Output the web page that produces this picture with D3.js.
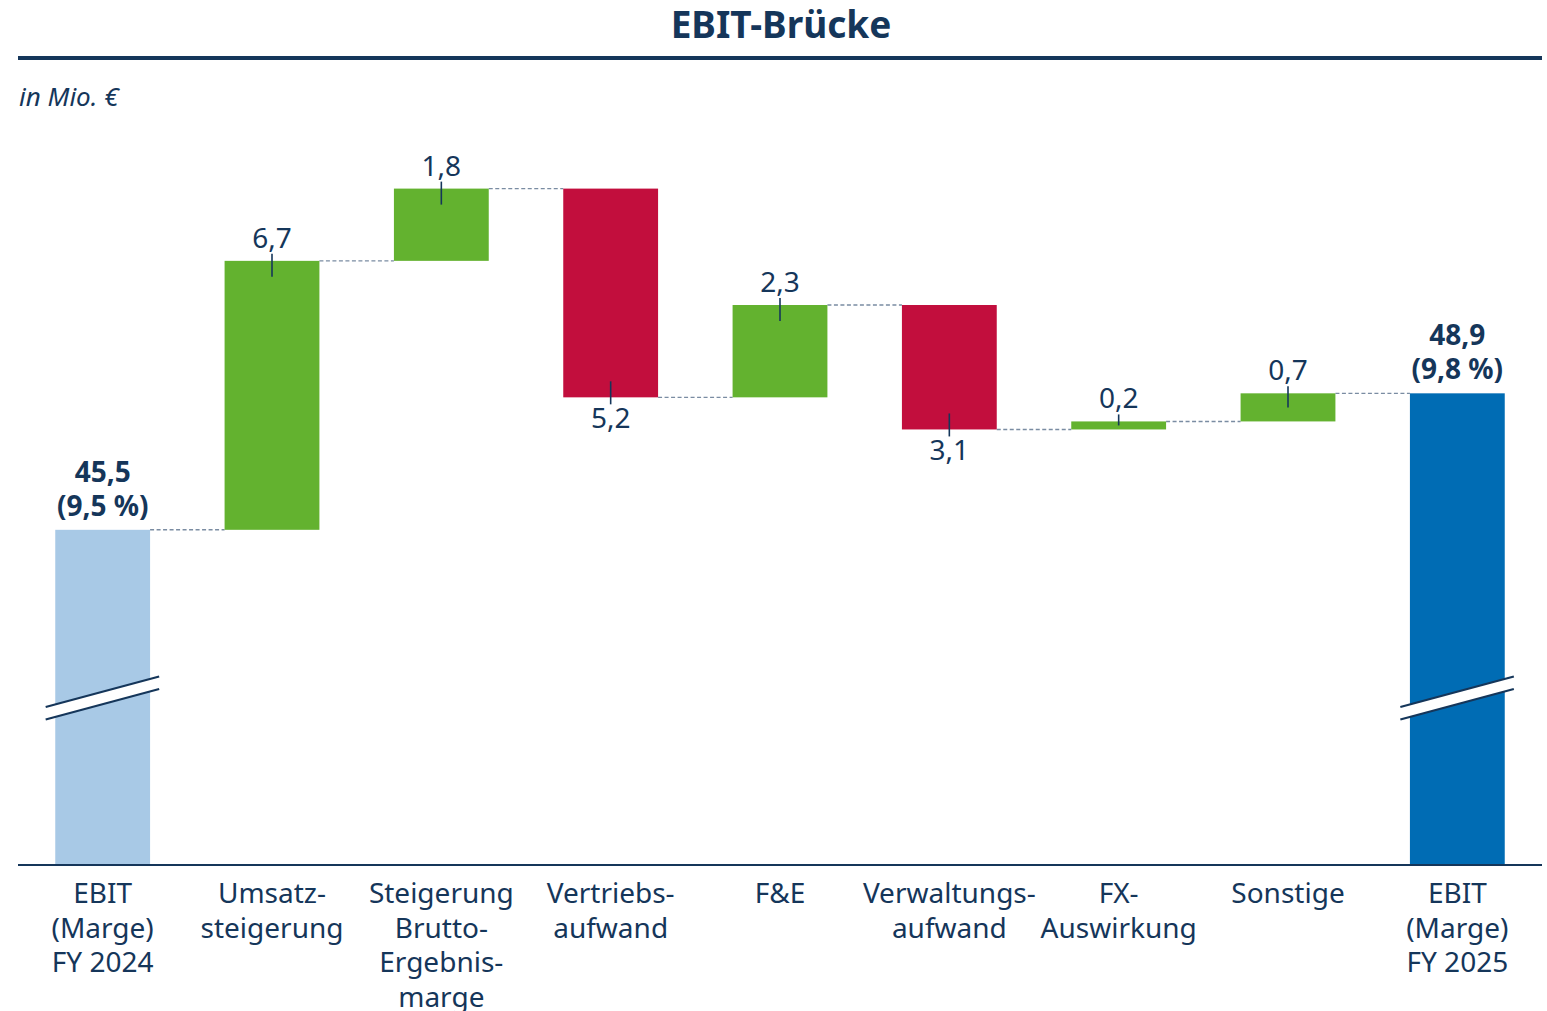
<!DOCTYPE html>
<html>
<head>
<meta charset="utf-8">
<script src="https://cdn.jsdelivr.net/npm/d3@7"></script>
<style>
  body { margin: 0; background: #fff; }
  text { font-family: "Noto Sans", sans-serif; fill: #15365a; }
</style>
</head>
<body>
<div id="chart"></div>
<script>
// chart data
var categories = [
    ["EBIT", "(Marge)", "FY 2024"],
    ["Umsatz-", "steigerung"],
    ["Steigerung", "Brutto-", "Ergebnis-", "marge"],
    ["Vertriebs-", "aufwand"],
    ["F&E"],
    ["Verwaltungs-", "aufwand"],
    ["FX-", "Auswirkung"],
    ["Sonstige"],
    ["EBIT", "(Marge)", "FY 2025"]
];
var values = [45.5, 6.7, 1.8, -5.2, 2.3, -3.1, 0.2, 0.7, 48.9];
var kinds = ["start", "delta", "delta", "delta", "delta", "delta", "delta", "delta", "end"];
var margins = ["9,5 %", null, null, null, null, null, null, null, "9,8 %"];

// svg area
var svgWidth = 1547;
var svgHeight = 1011;

var navy = "#15365a";
var colors = { start: "#a8c9e6", end: "#006cb4", up: "#63b22f", down: "#c20e3d" };

var svg = d3.select("#chart")
    .append("svg")
    .attr("width", svgWidth)
    .attr("height", svgHeight);

var locale = d3.formatLocale({ decimal: ",", thousands: ".", grouping: [3], currency: ["", " €"] });
var fmt = locale.format(".1f");

// running totals for the waterfall
var data = [];
var running = 0;
values.forEach(function (v, i) {
    var d = { i: i, value: v, kind: kinds[i], label: categories[i], margin: margins[i] };
    if (d.kind === "start" || d.kind === "end") {
        d.y0 = null;
        d.y1 = v;
        running = v;
    } else {
        d.y0 = running;
        running = running + v;
        d.y1 = running;
    }
    data.push(d);
});

// scales (axis is broken, floor value sits on the baseline)
var yFloor = 37.15;
var x = d3.scaleBand()
    .domain(d3.range(categories.length))
    .range([18, 1542])
    .paddingInner(0.44)
    .paddingOuter(0.22);

var y = d3.scaleLinear()
    .domain([yFloor, 54])
    .range([865, 188.6]);

// title
svg.append("text")
    .attr("x", 781)
    .attr("y", 38)
    .attr("text-anchor", "middle")
    .attr("font-size", 37)
    .attr("font-weight", 700)
    .text("EBIT-Brücke");

svg.append("line")
    .attr("x1", 18).attr("x2", 1542)
    .attr("y1", 58).attr("y2", 58)
    .attr("stroke", navy)
    .attr("stroke-width", 4);

svg.append("text")
    .attr("x", 19)
    .attr("y", 106)
    .attr("font-size", 26)
    .attr("font-style", "italic")
    .text("in Mio. €");

// connectors
var connectors = data.slice(0, data.length - 1).map(function (d) {
    return { i: d.i, level: d.y1 };
});

svg.append("g")
    .selectAll("line")
    .data(connectors)
    .enter()
    .append("line")
    .attr("x1", d => x(d.i) + x.bandwidth())
    .attr("x2", d => x(d.i + 1))
    .attr("y1", d => y(d.level))
    .attr("y2", d => y(d.level))
    .attr("stroke", "#7a8ca2")
    .attr("stroke-width", 1.4)
    .attr("stroke-dasharray", "4,2.5");

// bars
function barTop(d) {
    if (d.y0 === null) return y(d.y1);
    return y(Math.max(d.y0, d.y1));
}
function barBottom(d) {
    if (d.y0 === null) return y(yFloor);
    return y(Math.min(d.y0, d.y1));
}
function barColor(d) {
    if (d.kind === "start") return colors.start;
    if (d.kind === "end") return colors.end;
    return d.value >= 0 ? colors.up : colors.down;
}

svg.append("g")
    .selectAll("rect")
    .data(data)
    .enter()
    .append("rect")
    .attr("x", d => x(d.i))
    .attr("width", x.bandwidth())
    .attr("y", d => barTop(d))
    .attr("height", d => barBottom(d) - barTop(d))
    .attr("fill", d => barColor(d));

// axis break marks on total bars
var breakY = 698;
var totals = data.filter(d => d.kind !== "delta");
var breaks = svg.append("g")
    .selectAll("g")
    .data(totals)
    .enter()
    .append("g")
    .attr("transform", d => `translate(${x(d.i) + x.bandwidth() / 2}, ${breakY})`);

breaks.append("polygon")
    .attr("points", "-57,9 56.5,-21.5 56.5,-9 -57,21.5")
    .attr("fill", "#fff");
breaks.append("line")
    .attr("x1", -57).attr("y1", 9).attr("x2", 56.5).attr("y2", -21.5)
    .attr("stroke", navy).attr("stroke-width", 2.2);
breaks.append("line")
    .attr("x1", -57).attr("y1", 21.5).attr("x2", 56.5).attr("y2", -9)
    .attr("stroke", navy).attr("stroke-width", 2.2);

// baseline
svg.append("line")
    .attr("x1", 18).attr("x2", 1542)
    .attr("y1", y(yFloor)).attr("y2", y(yFloor))
    .attr("stroke", navy)
    .attr("stroke-width", 2);

// delta labels and small ticks
var deltas = data.filter(d => d.kind === "delta");

svg.append("g")
    .selectAll("line")
    .data(deltas)
    .enter()
    .append("line")
    .attr("x1", d => x(d.i) + x.bandwidth() / 2)
    .attr("x2", d => x(d.i) + x.bandwidth() / 2)
    .attr("y1", function (d) {
        return d.value >= 0 ? barTop(d) - 7 : barBottom(d) + 7;
    })
    .attr("y2", function (d) {
        var h = barBottom(d) - barTop(d);
        var inset = Math.min(16, h / 2);
        return d.value >= 0 ? barTop(d) + inset : barBottom(d) - inset;
    })
    .attr("stroke", navy)
    .attr("stroke-width", 1.6);

svg.append("g")
    .selectAll("text")
    .data(deltas)
    .enter()
    .append("text")
    .attr("x", d => x(d.i) + x.bandwidth() / 2)
    .attr("y", d => d.value >= 0 ? barTop(d) - 13 : barBottom(d) + 31)
    .attr("text-anchor", "middle")
    .attr("font-size", 28)
    .text(d => fmt(Math.abs(d.value)));

// total labels
var totalLabels = svg.append("g")
    .selectAll("text")
    .data(totals)
    .enter()
    .append("text")
    .attr("text-anchor", "middle")
    .attr("font-size", 28)
    .attr("font-weight", 700);

totalLabels.append("tspan")
    .attr("x", d => x(d.i) + x.bandwidth() / 2)
    .attr("y", d => barTop(d) - 48)
    .text(d => fmt(d.value));
totalLabels.append("tspan")
    .attr("x", d => x(d.i) + x.bandwidth() / 2)
    .attr("y", d => barTop(d) - 14)
    .text(d => "(" + d.margin + ")");

// category labels
var catLabels = svg.append("g")
    .selectAll("text")
    .data(data)
    .enter()
    .append("text")
    .attr("text-anchor", "middle")
    .attr("font-size", 28);

catLabels.selectAll("tspan")
    .data(d => d.label.map(function (t, k) { return { t: t, k: k, i: d.i }; }))
    .enter()
    .append("tspan")
    .attr("x", d => x(d.i) + x.bandwidth() / 2)
    .attr("y", d => 903 + d.k * 34.5)
    .text(d => d.t);
</script>
</body>
</html>
